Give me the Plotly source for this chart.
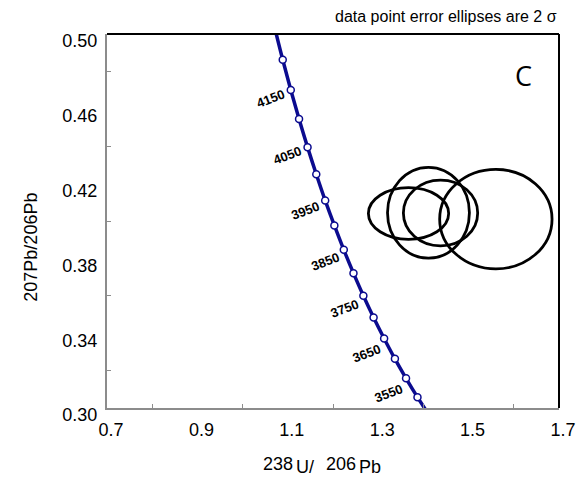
import plotly.graph_objects as go

# Concordia points (age in Ma)
ages = [3450, 3500, 3550, 3600, 3650, 3700, 3750, 3800, 3850, 3900, 3950, 4000, 4050, 4100, 4150, 4200, 4250]
conc_x = [1.4129, 1.3869, 1.3616, 1.3370, 1.3131, 1.2898, 1.2672, 1.2453, 1.2239, 1.2030, 1.1827, 1.1630, 1.1437, 1.1249, 1.1066, 1.0888, 1.0714]
conc_y = [0.2961, 0.3058, 0.3159, 0.3263, 0.3372, 0.3484, 0.3600, 0.3721, 0.3846, 0.3976, 0.4110, 0.4250, 0.4395, 0.4545, 0.4701, 0.4862, 0.5030]
marker_ages = ages[1:-1]

# age labels
label_text = ["4150", "4050", "3950", "3850", "3750", "3650", "3550"]
label_x = [1.0625, 1.0991, 1.1401, 1.1840, 1.2257, 1.2739, 1.3217]
label_y = [0.4656, 0.4349, 0.4055, 0.3782, 0.3533, 0.3294, 0.3079]

# error ellipses (center, semi-axes)
ell_cx = [1.3671, 1.4112, 1.4379, 1.5603]
ell_cy = [0.4040, 0.4044, 0.4043, 0.4010]
ell_rx = [0.0888, 0.0906, 0.0822, 0.1243]
ell_ry = [0.0138, 0.0243, 0.0176, 0.0266]

FONT = "Liberation Sans, Arial, sans-serif"
BLUE = "#0b0b8f"

# plot-area pixel geometry (for placing free text in paper coords)
L, T, W, H = 107, 34, 456, 374


def px_to_paper(px, py):
    return (px - L) / W, (T + H - py) / H


fig = go.Figure()
fig.add_trace(go.Scatter(x=conc_x, y=conc_y, mode="lines",
                         line=dict(color=BLUE, width=3.5, shape="spline"),
                         hoverinfo="skip", showlegend=False))
mx = [conc_x[ages.index(a)] for a in marker_ages]
my = [conc_y[ages.index(a)] for a in marker_ages]
fig.add_trace(go.Scatter(x=mx, y=my, mode="markers",
                         marker=dict(color="white", size=7, line=dict(color=BLUE, width=1.5)),
                         text=[str(a) for a in marker_ages], showlegend=False, cliponaxis=False))

for cx, cy, rx, ry in zip(ell_cx, ell_cy, ell_rx, ell_ry):
    fig.add_shape(type="circle", xref="x", yref="y",
                  x0=cx - rx, x1=cx + rx, y0=cy - ry, y1=cy + ry,
                  line=dict(color="black", width=2.8))

for t, x, y in zip(label_text, label_x, label_y):
    fig.add_annotation(x=x, y=y, xref="x", yref="y", text="<b>" + t + "</b>",
                       showarrow=False, textangle=-21, xanchor="center", yanchor="middle",
                       font=dict(family=FONT, size=13, color="black"))

# top and right frame lines (black)
fig.add_shape(type="line", xref="paper", yref="paper", x0=0, x1=1, y0=1, y1=1,
              line=dict(color="black", width=2))
fig.add_shape(type="line", xref="paper", yref="paper", x0=1, x1=1, y0=0, y1=1,
              line=dict(color="black", width=2))

cxp, cyp = px_to_paper(527, 75)
fig.add_annotation(x=cxp, y=cyp, xref="paper", yref="paper", text="C", showarrow=False,
                   xanchor="center", yanchor="middle",
                   font=dict(family="Open Sans, sans-serif", size=27, color="black"))

fig.add_annotation(x=1.0, y=1.0, xref="paper", yref="paper", xanchor="right", yanchor="bottom",
                   yshift=7, text="data point error ellipses are 2 σ", showarrow=False,
                   font=dict(family=FONT, size=16, color="black"))

# y-axis title
yxp, yyp = px_to_paper(30, 247)
fig.add_annotation(x=yxp, y=yyp, xref="paper", yref="paper", text="207Pb/206Pb", showarrow=False,
                   textangle=-90, xanchor="center", yanchor="middle",
                   font=dict(family=FONT, size=18, color="black"))

# x-axis title pieces
xt = [("238", 280, 464), ("U/", 307, 467), ("206", 343, 464), ("Pb", 372, 467)]
for t, px, py in xt:
    ax_, ay_ = px_to_paper(px, py)
    fig.add_annotation(x=ax_, y=ay_, xref="paper", yref="paper",
                       text=t, showarrow=False, xanchor="center", yanchor="middle",
                       font=dict(family=FONT, size=18, color="black"))

axis_common = dict(showgrid=False, zeroline=False, showline=True, linecolor="#8c8c8c", linewidth=2,
                   ticks="inside", ticklen=0, tickcolor="#8c8c8c",
                   tickfont=dict(family=FONT, size=18, color="black"))

fig.update_xaxes(range=[0.7, 1.7], tick0=0.7, dtick=0.2, tickformat=".1f",
                 minor=dict(dtick=0.1, tick0=0.7, ticks="inside", ticklen=4, tickcolor="#8c8c8c"),
                 ticklabelshift=4, ticklabelstandoff=4, **axis_common)
fig.update_yaxes(range=[0.30, 0.50], tick0=0.30, dtick=0.04, tickformat=".2f",
                 minor=dict(dtick=0.02, tick0=0.30, ticks="inside", ticklen=4, tickcolor="#8c8c8c"),
                 ticklabelshift=7, ticklabelstandoff=4, **axis_common)

fig.update_layout(width=588, height=481, margin=dict(l=L, r=588 - L - W, t=T, b=481 - T - H),
                  plot_bgcolor="white", paper_bgcolor="white", showlegend=False)

fig.write_html("out.html")
